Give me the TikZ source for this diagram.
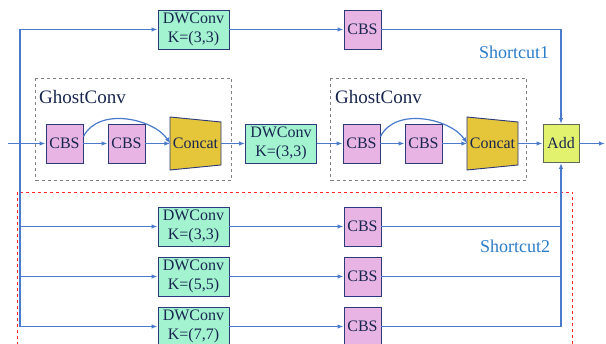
\documentclass[tikz,border=0pt]{standalone}
\usepackage{fontspec}
\setmainfont{Liberation Serif}
\usetikzlibrary{arrows.meta,calc}

\definecolor{dwfill}{HTML}{A3F3D1}
\definecolor{cbsfill}{HTML}{E8B4E4}
\definecolor{catfill}{HTML}{E5C53A}
\definecolor{addfill}{HTML}{E2F26E}
\definecolor{addedge}{HTML}{5E6A52}
\definecolor{edge}{HTML}{2C3A7A}
\definecolor{wire}{HTML}{4A7ACC}
\definecolor{ink}{HTML}{18264F}
\definecolor{tagblue}{HTML}{2B7CC9}

\tikzset{
  x=1pt, y=1pt,
  block/.style={draw=edge, line width=0.9pt, text=ink, inner sep=0pt,
    font=\fontsize{16}{19}\selectfont, align=center},
  dwbox/.style={block, fill=dwfill, minimum width=71pt, minimum height=39pt},
  cbsbox/.style={block, fill=cbsfill, minimum width=37pt, minimum height=39pt},
  addbox/.style={block, fill=addfill, draw=addedge, minimum width=36pt, minimum height=38pt},
  catlabel/.style={text=ink, inner sep=0pt, font=\fontsize{16}{19}\selectfont,
    minimum width=50pt, minimum height=43pt},
  catshape/.style={draw=edge, line width=0.9pt, fill=catfill},
  arr/.style={draw=wire, line width=1.2pt, -{Latex[length=6pt,width=4.5pt]}},
  wireline/.style={draw=wire, line width=1.2pt},
  ghost/.style={draw=gray, dashed, line width=1.1pt},
  redbox/.style={draw=red!85, dashed, line width=1.1pt},
  ghosttitle/.style={text=ink, anchor=west, inner sep=0pt, font=\fontsize{19}{22}\selectfont},
  tag/.style={text=tagblue, inner sep=0pt, font=\fontsize{18}{21}\selectfont}
}

\begin{document}
\begin{tikzpicture}
\useasboundingbox (0,0) rectangle (606,-344);
\clip (0,0) rectangle (606,-344);

% GhostConv frames and the multi-kernel shortcut frame
\draw[ghost] (35.5,-78.5) rectangle (231.5,-180.5);
\draw[ghost] (330.5,-78.5) rectangle (526.5,-180.5);
\draw[redbox] (17.5,-192.5) rectangle (572.5,-360);
\node[ghosttitle] (g1) at (39,-97) {GhostConv};
\node[ghosttitle] (g2) at (335,-97) {GhostConv};

% Concat trapezoids
\filldraw[catshape] (170,-117) -- (221,-122) -- (221,-165) -- (170,-170) -- cycle;
\filldraw[catshape] (467,-117) -- (518,-122) -- (518,-165) -- (467,-170) -- cycle;

% main path
\node[cbsbox] (cbs1) at (64.5,-143.5) {CBS};
\node[cbsbox] (cbs2) at (126.5,-143.5) {CBS};
\node[catlabel] (cat1) at (195.5,-143.5) {Concat};
\node[dwbox] (dwm) at (281,-143.5) {DWConv\\K=(3,3)};
\node[cbsbox] (cbs3) at (361.5,-143.5) {CBS};
\node[cbsbox] (cbs4) at (423.5,-143.5) {CBS};
\node[catlabel] (cat2) at (492.5,-143.5) {Concat};
\node[addbox] (add) at (561,-143.5) {Add};

% shortcut 1
\node[dwbox] (dwt) at (193.5,-29.5) {DWConv\\K=(3,3)};
\node[cbsbox] (cbst) at (362.5,-29.5) {CBS};

% shortcut 2
\node[dwbox] (dwa) at (193.5,-226.5) {DWConv\\K=(3,3)};
\node[dwbox] (dwb) at (193.5,-276.5) {DWConv\\K=(5,5)};
\node[dwbox] (dwc) at (193.5,-326.5) {DWConv\\K=(7,7)};
\node[cbsbox] (cbsa) at (362.5,-226.5) {CBS};
\node[cbsbox] (cbsb) at (362.5,-276.5) {CBS};
\node[cbsbox] (cbsc) at (362.5,-326.5) {CBS};

\node[tag] (t1) at (514,-52) {Shortcut1};
\node[tag] (t2) at (515,-246) {Shortcut2};

% connectors
\coordinate (in) at (8,-143.5);
\coordinate (split) at (20,-143.5);
\coordinate (out) at (605,-143.5);

\draw[arr] (in) -- (cbs1);
\draw[arr] (cbs1) -- (cbs2);
\draw[arr] (cbs2) -- (cat1);
\draw[arr] (cbs1.20) .. controls +(15,30) and +(-17,25) .. (cat1.west);
\draw[arr] (cat1) -- (dwm);
\draw[arr] (dwm) -- (cbs3);
\draw[arr] (cbs3) -- (cbs4);
\draw[arr] (cbs4) -- (cat2);
\draw[arr] (cbs3.20) .. controls +(15,30) and +(-17,25) .. (cat2.west);
\draw[arr] (cat2) -- (add);
\draw[arr] (add) -- (out);

\draw[arr] (split) |- (dwt);
\draw[arr] (split) |- (dwa);
\draw[arr] (split) |- (dwb);
\draw[arr] (split) |- (dwc);
\draw[arr] (dwt) -- (cbst);
\draw[arr] (dwa) -- (cbsa);
\draw[arr] (dwb) -- (cbsb);
\draw[arr] (dwc) -- (cbsc);

\draw[arr] (cbst) -| (add.north);
\draw[wireline] (cbsa) -- (cbsa -| add);
\draw[wireline] (cbsb) -- (cbsb -| add);
\draw[arr] (cbsc) -| (add.south);
\end{tikzpicture}
\end{document}
